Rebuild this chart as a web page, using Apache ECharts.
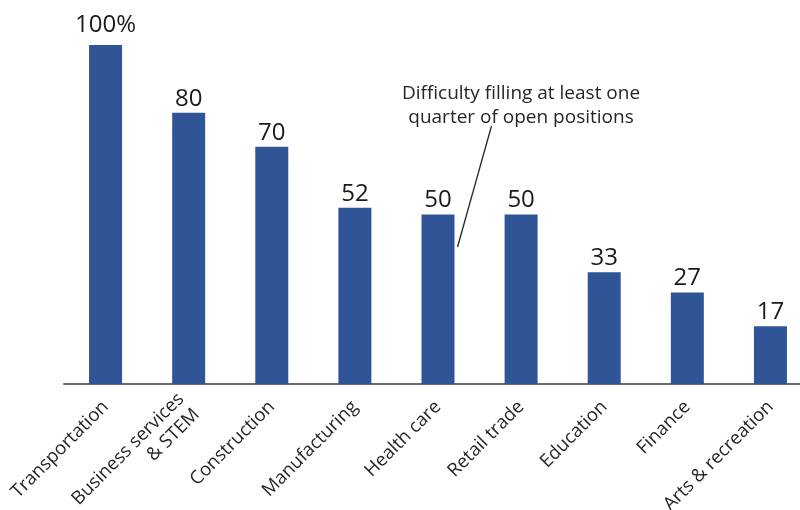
<!DOCTYPE html>
<html>
<head>
<meta charset="utf-8">
<script src="https://cdn.jsdelivr.net/npm/echarts@6/dist/echarts.min.js"></script>
<style>html,body{margin:0;padding:0;background:#fff}#c{width:800px;height:510px}</style>
</head>
<body>
<div id="c"></div>
<script>
const categories = ['Transportation', 'Business services\n& STEM', 'Construction', 'Manufacturing', 'Health care', 'Retail trade', 'Education', 'Finance', 'Arts & recreation'];
const values = [100, 80, 70, 52, 50, 50, 33, 27, 17];
const valueLabels = ['100%', '80', '70', '52', '50', '50', '33', '27', '17'];
const annotationText = 'Difficulty filling at least one\nquarter of open positions';

const FONT = 'Open Sans';
const chart = echarts.init(document.getElementById('c'));
chart.setOption({
  animation: false,
  grid: { left: 64, top: 45, width: 748, bottom: 126, containLabel: false, outerBoundsMode: 'none' },
  xAxis: {
    type: 'category',
    data: categories,
    axisLine: { show: true, lineStyle: { color: '#6b6b6b', width: 2 } },
    axisTick: { show: false },
    axisLabel: { rotate: 45, interval: 0, fontFamily: FONT, fontSize: 18.5, color: '#262626', margin: 20, align: 'right', lineHeight: 22 }
  },
  yAxis: { type: 'value', min: 0, max: 100, show: false, splitLine: { show: false } },
  series: [{
    type: 'bar',
    data: values.map((v, i) => i === 0 ? { value: v, label: { distance: 8 } } : v),
    barWidth: 33,
    itemStyle: { color: '#2F5597' },
    label: {
      show: true, position: 'top', distance: 2,
      fontFamily: FONT, fontSize: 24, color: '#1a1a1a',
      formatter: p => valueLabels[p.dataIndex]
    }
  }],
  graphic: [
    { type: 'text', style: { text: annotationText, x: 521, y: 82, textAlign: 'center', font: '19px "Open Sans"', fill: '#262626', lineHeight: 24 } },
    { type: 'line', shape: { x1: 491.5, y1: 126, x2: 457.5, y2: 247 }, style: { stroke: '#262626', lineWidth: 1.3 } }
  ]
});
</script>
</body>
</html>
